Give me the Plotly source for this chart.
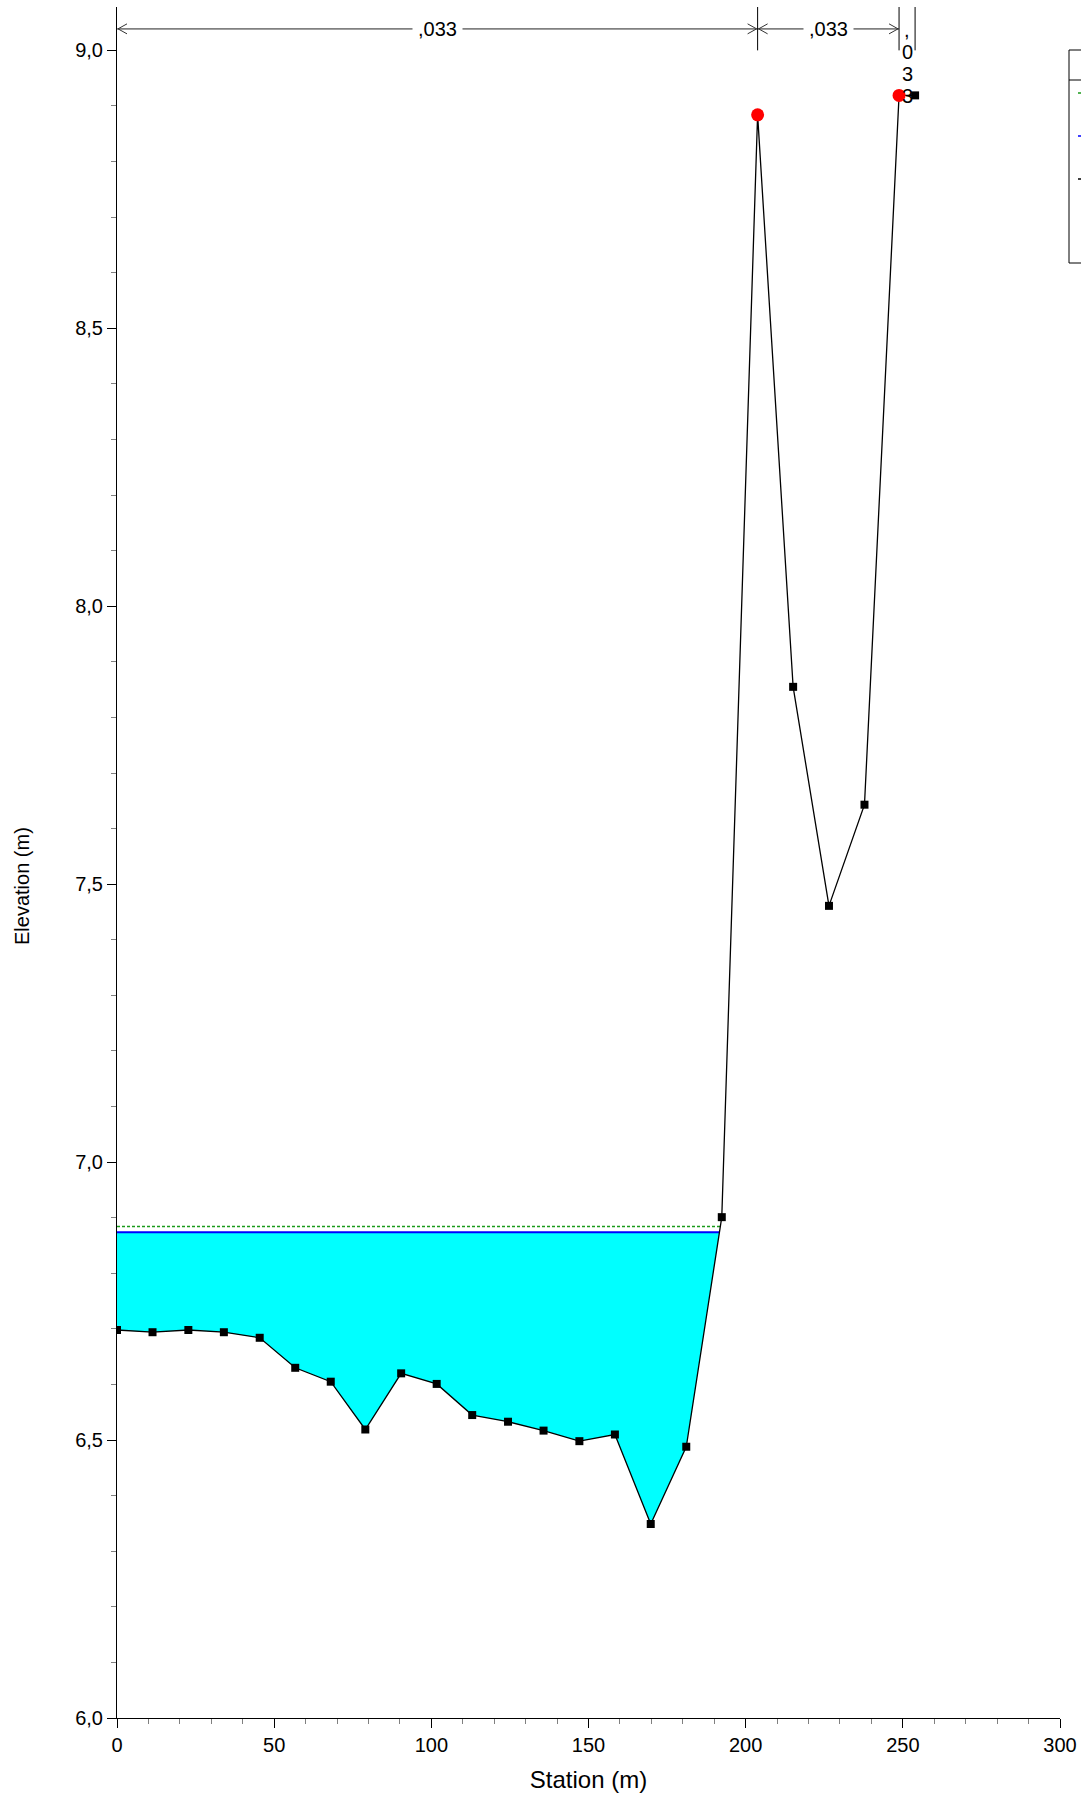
import plotly.graph_objects as go

# ---- data ----
stations = [0, 11.3, 22.7, 34.0, 45.4, 56.7, 68.0, 79.0, 90.4, 101.7, 113.0, 124.4,
            135.7, 147.1, 158.4, 169.8, 181.1, 192.4, 203.8, 215.1, 226.5, 237.8, 248.8, 253.9]
elevations = [6.698, 6.694, 6.698, 6.694, 6.684, 6.630, 6.605, 6.519, 6.620, 6.601, 6.545, 6.533,
              6.517, 6.498, 6.510, 6.349, 6.488, 6.901, 8.884, 7.855, 7.461, 7.643, 8.919, 8.919]
bank_stations = [203.8, 248.8]
bank_elev = [8.884, 8.919]
ws_elev = 6.874
eg_elev = 6.884
n_bounds = [0, 203.8, 248.8, 253.9]
n_labels = [",033", ",033", ",033"]

# ---- layout constants (pixels) ----
W, H = 1081, 1800
ML, MR, MT, MB = 117, 21, 7, 82
PW, PH = W - ML - MR, H - MT - MB
Y_TOP = 9.078
ARROW_Y = 9.0387
FONT = "Liberation Sans, Arial, sans-serif"


def px_x(p):
    return (p - ML) / PW


def px_y(p):
    return (H - MB - p) / PH


# water edge: intersection of a level with the ground, starting from station 0
def right_edge(level):
    for i in range(len(stations) - 1):
        e0, e1 = elevations[i], elevations[i + 1]
        if e0 <= level < e1:
            t = (level - e0) / (e1 - e0)
            return i, stations[i] + t * (stations[i + 1] - stations[i])
    return len(stations) - 1, stations[-1]


iw, xw = right_edge(ws_elev)
ie, xe = right_edge(eg_elev)
poly_x = stations[:iw + 1] + [xw, stations[0]]
poly_y = elevations[:iw + 1] + [ws_elev, ws_elev]

fig = go.Figure()
fig.add_trace(go.Scatter(x=poly_x, y=poly_y, fill="toself", fillcolor="#00FFFF",
                         line=dict(width=0), mode="lines", showlegend=False, hoverinfo="skip"))
fig.add_trace(go.Scatter(x=[stations[0], xe], y=[eg_elev, eg_elev], mode="lines", name="EG  PF 1",
                         line=dict(color="#1a9a1a", width=1.5, dash="3px,2px")))
fig.add_trace(go.Scatter(x=[stations[0], xw], y=[ws_elev, ws_elev], mode="lines", name="WS  PF 1",
                         line=dict(color="#0000FF", width=2)))
fig.add_trace(go.Scatter(x=stations, y=elevations, mode="lines+markers", name="Ground",
                         line=dict(color="black", width=1.3),
                         marker=dict(symbol="square", size=8, color="black")))
fig.add_trace(go.Scatter(x=bank_stations, y=bank_elev, mode="markers", name="Bank Sta",
                         marker=dict(symbol="circle", size=13, color="#FF0000")))

shapes = []
annotations = []
for k in range(len(n_labels)):
    x0, x1 = n_bounds[k], n_bounds[k + 1]
    if k < 2:
        shapes.append(dict(type="line", xref="x", yref="y", x0=x0, x1=x1, y0=ARROW_Y, y1=ARROW_Y,
                           line=dict(color="#808080", width=1.6), layer="above"))
        shapes.append(dict(type="path", xref="x", yref="y", xsizemode="pixel", ysizemode="pixel",
                           xanchor=x0, yanchor=ARROW_Y, path="M 10,5 L 1,0 L 10,-5",
                           line=dict(color="#333333", width=1)))
        shapes.append(dict(type="path", xref="x", yref="y", xsizemode="pixel", ysizemode="pixel",
                           xanchor=x1, yanchor=ARROW_Y, path="M -10,5 L -1,0 L -10,-5",
                           line=dict(color="#333333", width=1)))
        annotations.append(dict(x=(x0 + x1) / 2, y=ARROW_Y, xref="x", yref="y", text=n_labels[k],
                                showarrow=False, bgcolor="white", borderpad=5,
                                font=dict(family=FONT, size=20, color="black")))
    else:
        # narrow zone: label written vertically, one character per line
        for j, ch in enumerate(n_labels[k]):
            annotations.append(dict(x=(x0 + x1) / 2, y=px_y(30 + 22 * j), xref="x", yref="paper",
                                    text=ch, showarrow=False, yanchor="middle", xanchor="center",
                                    font=dict(family=FONT, size=20, color="black")))
for xb in n_bounds[1:]:
    shapes.append(dict(type="line", xref="x", yref="y", x0=xb, x1=xb, y0=9.0, y1=Y_TOP,
                       line=dict(color="black", width=1)))

# y-axis title (placed as in the reference)
annotations.append(dict(x=px_x(22), y=px_y(886), xref="paper", yref="paper", text="Elevation (m)",
                        textangle=-90, showarrow=False, xanchor="center", yanchor="middle",
                        font=dict(family=FONT, size=20, color="black")))

# legend box (only its left edge is inside the picture)
shapes.append(dict(type="rect", xref="paper", yref="paper", x0=px_x(1069), x1=px_x(1110),
                   y0=px_y(263), y1=px_y(50), line=dict(color="black", width=1), fillcolor="white",
                   layer="below"))
shapes.append(dict(type="line", xref="paper", yref="paper", x0=px_x(1069), x1=px_x(1110),
                   y0=px_y(80), y1=px_y(80), line=dict(color="black", width=1)))
for yy, col, dash in [(93, "#1a9a1a", "dot"), (136, "#0000FF", "solid"), (179, "black", "solid")]:
    shapes.append(dict(type="line", xref="paper", yref="paper", x0=px_x(1078), x1=px_x(1110),
                       y0=px_y(yy), y1=px_y(yy), line=dict(color=col, width=1.5, dash=dash)))

fig.update_layout(
    width=W, height=H,
    margin=dict(l=ML, r=MR, t=MT, b=MB, autoexpand=False),
    plot_bgcolor="white", paper_bgcolor="white",
    separators=", ",
    showlegend=False,
    font=dict(family=FONT, size=20, color="black"),
    shapes=shapes, annotations=annotations,
)
fig.update_xaxes(range=[0, 300], tickmode="linear", tick0=0, dtick=50, tickformat="d",
                 ticks="outside", ticklen=9, tickcolor="black", showline=True, linecolor="black",
                 linewidth=1, showgrid=False, zeroline=False,
                 minor=dict(dtick=10, ticks="outside", ticklen=5, tickcolor="gray"),
                 title=dict(text="Station (m)", standoff=16), automargin=False,
                 tickfont=dict(size=20))
fig.update_yaxes(range=[6, Y_TOP], tickmode="linear", tick0=6, dtick=0.5, tickformat=".1f",
                 ticks="outside", ticklen=9, tickcolor="black", showline=True, linecolor="black",
                 linewidth=1, showgrid=False, zeroline=False,
                 minor=dict(dtick=0.1, ticks="outside", ticklen=5, tickcolor="gray"),
                 automargin=False, tickfont=dict(size=20))

fig.write_html("out.html", config={"displayModeBar": False},
               post_script="document.body.style.margin='0px';")
